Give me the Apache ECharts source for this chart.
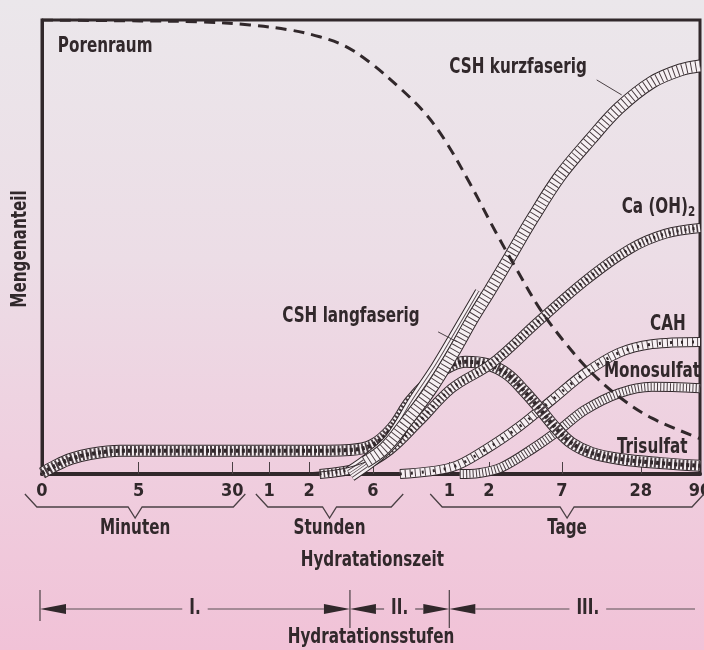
<!DOCTYPE html>
<html>
<head>
<meta charset="utf-8">
<script src="https://cdn.jsdelivr.net/npm/echarts@6/dist/echarts.min.js"></script>
<style>
html, body { margin: 0; padding: 0; }
#main {
    width: 704px; height: 650px;
    background: linear-gradient(to bottom, #ebe7eb 0%, #ecdde6 40%, #efcfdf 70%, #f1c2d7 100%);
}
</style>
</head>
<body>
<div id="main"></div>
<script>
// schematic time axis (roughly logarithmic), positions 0..100
var tickPos  = [0, 14.7, 28.9, 34.5, 40.6, 50.3, 61.9, 67.9, 79.0, 91.0, 100];
var tickText = ['0', '5', '30', '1', '2', '6', '1', '2', '7', '28', '90'];

// [time position, Mengenanteil 0..100]
var porenraum = [[0,100],[14.9,99.8],[24.0,99.6],[31.6,98.9],[37.7,97.8],[42.2,96.3],[46.0,94.3],
    [49.8,90.7],[54.4,85.0],[58.2,79.5],[61.2,73.6],[65.0,64.1],[69.1,52.9],[72.2,44.9],[75.7,36.3],
    [79.5,28.9],[83.6,22.2],[87.7,17.0],[92.7,12.3],[99.8,7.9],[100,7.8]];
var cshKurzStart = [[36.2,0],[43.8,0.7],[49.1,2.6],[52.1,5.7]];
var cshKurz = [[49.1,2.6],[52.1,5.7],[55.2,11.2],[59.0,18.5],[62.3,26.2],[65.5,34.4],[68.1,40.5],
    [71.1,47.8],[74.6,56.4],[78.7,65.6],[83.3,73.6],[87.7,80.6],[92.7,86.3],[97.0,89.0],[100,89.9]];
var cshLang = [[46.8,0],[50.2,3.5],[53.2,7.5],[56.8,15.9],[60.2,23.3],[62.8,29.6],[64.8,34.6],[66.9,39.8]];
var caOH2 = [[42.2,0],[48.3,1.5],[52.9,5.3],[57.3,11.5],[62.3,18.9],[68.4,24.4],[75.5,33.7],
    [82.5,42.5],[89.4,49.6],[94.7,52.9],[100,54.2]];
var trisulfat = [[0,0.2],[2.0,1.8],[4.3,3.3],[7.3,4.4],[11.9,5.1],[24.0,5.1],[39.2,5.1],[46.8,5.3],
    [50.2,6.4],[53.2,10.1],[55.9,15.9],[58.7,20.3],[61.2,23.1],[64.3,24.7],[67.6,24.2],[70.7,22.0],
    [73.4,18.1],[75.8,14.1],[78.1,10.1],[80.5,6.8],[83.6,4.6],[87.8,3.3],[93.9,2.4],[100,1.8]];
var cah = [[54.4,0],[62.3,1.5],[67.3,5.3],[72.5,10.4],[77.5,16.3],[82.5,22.2],[87.7,26.7],[92.7,28.6],[100,29.1]];
var monosulfat = [[63.5,0],[66.4,0.2],[69.9,1.5],[74.9,5.9],[78.6,9.7],[82.5,14.1],[87.7,17.8],[92.7,19.2],[100,18.9]];

// annotations
var curveLabels = [
    ['Porenraum', 2.4, 94.1],
    ['CSH kurzfaserig', 61.9, 89.4],
    ['{a|Ca (OH)}{s|2}', 88.1, 58.6],
    ['CSH langfaserig', 36.5, 34.6],
    ['CAH', 92.4, 32.8],
    ['Monosulfat', 85.4, 22.5],
    ['Trisulfat', 87.4, 5.7]
];
var leaders = [[[84.3,86.8],[88.1,83.5]], [[60.2,31.3],[63.1,29.1]]];
var braces = [['Minuten', -2.6, 30.9], ['Stunden', 32.5, 54.9], ['Tage', 59.0, 100.6]];
var stages = [['I.', 0, 46.8], ['II.', 46.8, 61.9], ['III.', 61.9, 104]];

var DARK = '#31282b';
var FILL = '#f6f0f3';
var FONT = "'Liberation Sans Narrow','DejaVu Sans Condensed','Arial Narrow',sans-serif";

function layer(data, width, color, dash, z) {
    return {
        type: 'line', data: data, smooth: 0.35, showSymbol: false, silent: true, z: z,
        lineStyle: { color: color, width: width, type: dash || 'solid', cap: 'butt' }
    };
}
// hatched ribbon: outline, light fill, dashed dark line across gives the hatch
function band(data, w, hatch, z, extra) {
    var s = [layer(data, w + 2, DARK, null, z), layer(data, w, FILL, null, z), layer(data, w, '#4a3d42', hatch, z)];
    if (extra) s.push(layer(data, extra[0], DARK, extra[1], z));
    return s;
}

var series = [].concat(
    band(monosulfat, 8, [1, 2.2], 2),
    band(cah, 8, [1, 4], 3, [3, [2, 9]]),
    band(trisulfat, 10, [2, 2], 4, [4, [3, 3]]),
    band(caOH2, 8, [1.5, 2.5], 5, [3, [2, 6]]),
    [layer(cshLang, 16, DARK, null, 6), layer(cshLang, 14, FILL, null, 6), layer(cshLang, 9, '#5a4c52', null, 6),
     layer(cshLang, 7, FILL, null, 6), layer(cshLang, 3, '#5a4c52', null, 6), layer(cshLang, 1.5, FILL, null, 6)],
    [layer(cshKurzStart, 1, DARK, null, 7)],
    band(cshKurz, 11, [1, 3.5], 7),
    [layer(porenraum, 3, DARK, [11, 7], 9)]
);

var chart = echarts.init(document.getElementById('main'));
chart.setOption({
    animation: false,
    grid: { left: 42, right: 4, top: 20, bottom: 176, show: true, borderColor: DARK, borderWidth: 3,
            outerBoundsMode: 'none', containLabel: false },
    xAxis: {
        type: 'value', min: 0, max: 100,
        axisLine: { show: true, onZero: false, lineStyle: { color: DARK, width: 4 } },
        axisTick: { show: true, inside: true, length: 12, customValues: tickPos.slice(1, -1), lineStyle: { color: '#4a4044', width: 1 } },
        axisLabel: {
            show: true, customValues: tickPos, margin: 8,
            color: DARK, fontSize: 18, fontWeight: 'bold', fontFamily: FONT,
            formatter: function (v) {
                var best = 0;
                tickPos.forEach(function (p, i) { if (Math.abs(p - v) < Math.abs(tickPos[best] - v)) best = i; });
                return tickText[best];
            }
        },
        splitLine: { show: false }
    },
    yAxis: {
        type: 'value', min: 0, max: 100,
        axisLine: { show: true, lineStyle: { color: DARK, width: 3 } },
        axisTick: { show: false }, axisLabel: { show: false }, splitLine: { show: false }
    },
    series: series
});

// annotations placed through the axes
function px(x, y) { return chart.convertToPixel({ gridIndex: 0 }, [x, y]); }
var SX = 0.89, SY = 1.08;
var ctx = document.createElement('canvas').getContext('2d');
function textW(t, size) { ctx.font = 'bold ' + size + 'px ' + FONT; return ctx.measureText(t).width * SX; }

var g = [];
var txt = function (t, x, y, size, align, rot) {
    return { type: 'text', x: x, y: y, z: 100, scaleX: SX, scaleY: SY, rotation: rot || 0, style: {
        text: t, fill: DARK, fontSize: size, fontWeight: 'bold', fontFamily: FONT,
        align: align || 'center', verticalAlign: 'middle',
        rich: { a: { fontSize: 19, fontWeight: 'bold', fontFamily: FONT, fill: DARK },
                s: { fontSize: 13, fontWeight: 'bold', fontFamily: FONT, fill: DARK, padding: [8, 0, 0, 0] } } } };
};
g.push(txt('Mengenanteil', 21, 249, 19, 'center', Math.PI / 2));
curveLabels.forEach(function (l) {
    var p = px(l[1], l[2]);
    g.push(txt(l[0], p[0], p[1], 19, 'left'));
});
leaders.forEach(function (l) {
    var a = px(l[0][0], l[0][1]), b = px(l[1][0], l[1][1]);
    g.push({ type: 'line', z: 100, shape: { x1: a[0], y1: a[1], x2: b[0], y2: b[1] }, style: { stroke: '#4a4044', lineWidth: 1 } });
});

var yTop = 494, yBar = 507;
braces.forEach(function (b) {
    var x0 = px(b[1], 0)[0], x1 = px(b[2], 0)[0], xc = (x0 + x1) / 2;
    g.push({ type: 'polyline', z: 100, shape: { points: [[x0, yTop], [x0 + 12, yBar], [xc - 7, yBar], [xc, yBar + 11],
        [xc + 7, yBar], [x1 - 12, yBar], [x1, yTop]] }, style: { stroke: '#4a4044', lineWidth: 1.3, fill: null } });
    g.push(txt(b[0], xc, 529, 19));
});
g.push(txt('Hydratationszeit', px(50.2, 0)[0], 561, 19));

var yS = 609, xEnd = 695;
stages.forEach(function (s, i) {
    var a0 = px(s[1], 0)[0] - (i === 0 ? 2 : 0);
    var xFull = px(s[2], 0)[0], x1 = Math.min(xFull, xEnd), xc = (a0 + xFull) / 2;
    var tw = textW(s[0], 19) / 2 + 7;
    g.push({ type: 'line', z: 100, shape: { x1: a0, y1: 590, x2: a0, y2: i === 0 ? 621 : 628 }, style: { stroke: '#4a4044', lineWidth: 1.2 } });
    g.push({ type: 'polygon', z: 100, shape: { points: [[a0, yS], [a0 + 26, yS - 5], [a0 + 26, yS + 5]] }, style: { fill: DARK } });
    var lineEnd = x1;
    if (i < stages.length - 1) {
        g.push({ type: 'polygon', z: 100, shape: { points: [[x1, yS], [x1 - 26, yS - 5], [x1 - 26, yS + 5]] }, style: { fill: DARK } });
        lineEnd = x1 - 26;
    }
    g.push({ type: 'line', z: 100, shape: { x1: a0 + 26, y1: yS, x2: xc - tw, y2: yS }, style: { stroke: '#5a5055', lineWidth: 1.2 } });
    g.push({ type: 'line', z: 100, shape: { x1: xc + tw, y1: yS, x2: lineEnd, y2: yS }, style: { stroke: '#5a5055', lineWidth: 1.2 } });
    g.push(txt(s[0], xc, yS, 19));
});
g.push(txt('Hydratationsstufen', px(50.0, 0)[0], 638, 19));

chart.setOption({ graphic: g });
</script>
</body>
</html>
